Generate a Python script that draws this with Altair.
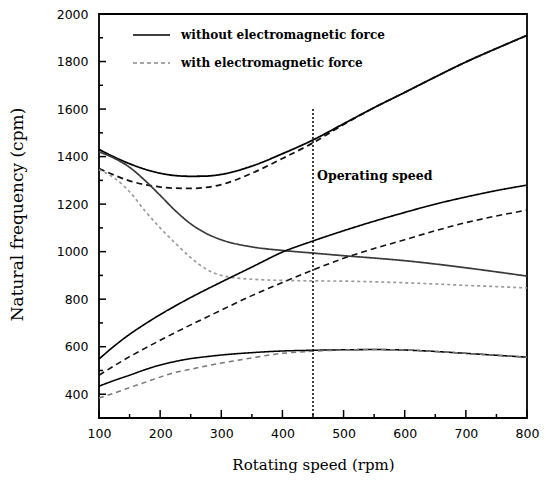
import altair as alt
import pandas as pd

# ---------------- data ----------------
rpm = [100, 125, 150, 175, 200, 225, 250, 275, 300, 350, 400, 450, 500, 550, 600, 650, 700, 750, 800]

solid_a  = [1430, 1398, 1370, 1347, 1330, 1320, 1317, 1318, 1325, 1360, 1412, 1470, 1538, 1606, 1670, 1735, 1798, 1855, 1910]
dashed_a = [1350, 1322, 1298, 1282, 1272, 1267, 1266, 1270, 1282, 1330, 1392, 1458, 1535, 1606, 1670, 1735, 1798, 1855, 1910]
solid_b  = [1420, 1393, 1355, 1300, 1237, 1172, 1117, 1077, 1050, 1020, 1005, 994, 983, 973, 962, 948, 932, 915, 897]
light_b  = [1345, 1310, 1252, 1172, 1100, 1035, 975, 927, 900, 884, 879, 877, 876, 873, 869, 864, 858, 853, 847]
solid_c  = [548, 603, 652, 695, 735, 772, 807, 840, 872, 935, 998, 1045, 1088, 1128, 1165, 1200, 1230, 1257, 1280]
dashed_c = [480, 520, 558, 593, 627, 660, 692, 723, 754, 815, 870, 923, 972, 1013, 1050, 1088, 1122, 1150, 1175]
solid_d  = [434, 458, 480, 503, 523, 538, 550, 558, 565, 575, 582, 585, 587, 588, 586, 580, 572, 564, 556]
dashed_d = [384, 405, 428, 450, 472, 492, 505, 519, 531, 553, 572, 581, 586, 588, 586, 580, 572, 564, 556]

curves = {
    "A without": solid_a, "A with": dashed_a,
    "B without": solid_b, "B with": light_b,
    "C without": solid_c, "C with": dashed_c,
    "D without": solid_d, "D with": dashed_d,
}
curve_names = list(curves.keys())
curve_colors = ["#000000", "#111111", "#3a3a3a", "#9a9a9a", "#000000", "#111111", "#000000", "#777777"]
curve_widths = [1.8, 1.5, 1.2, 1.0, 1.8, 1.5, 1.8, 1.2]
curve_dashes = [[1, 0], [6, 4], [1, 0], [3, 3], [1, 0], [6, 4], [1, 0], [5, 4]]

legend_types = ["without electromagnetic force", "with electromagnetic force"]
legend_colors = ["#000000", "#8a8a8a"]
legend_dashes = [[1, 0], [4, 3]]

op_speed = [450]
op_top = [1600]
op_bottom = [300]
op_text = ["Operating speed"]
op_text_y = [1318]

x_major = [100, 200, 300, 400, 500, 600, 700, 800]
x_minor = [150, 250, 350, 450, 550, 650, 750]
y_major = [400, 600, 800, 1000, 1200, 1400, 1600, 1800, 2000]
y_minor = [500, 700, 900, 1100, 1300, 1500, 1700, 1900]

# ---------------- tables ----------------
rows = []
for name, vals in curves.items():
    for r, v in zip(rpm, vals):
        rows.append({"rpm": r, "freq": v, "curve": name})
df = pd.DataFrame(rows)

leg_df = pd.DataFrame({"rpm": [100, 100], "freq": [300, 300], "type": legend_types})
op_df = pd.DataFrame({"rpm": op_speed, "freq": op_top, "freq2": op_bottom})
txt_df = pd.DataFrame({"rpm": op_speed, "freq": op_text_y, "label": op_text})
xmaj_df = pd.DataFrame({"rpm": x_major})
xmin_df = pd.DataFrame({"rpm": x_minor})
ymaj_df = pd.DataFrame({"freq": y_major})
ymin_df = pd.DataFrame({"freq": y_minor})

W, H = 428, 404
xs = alt.Scale(domain=[100, 800], nice=False, zero=False)
ys = alt.Scale(domain=[300, 2000], nice=False, zero=False)

x_axis = alt.Axis(values=x_major, ticks=False, grid=False, domain=False, format="d",
                  labelFlush=False, labelOverlap=False,
                  labelFont="DejaVu Sans", labelFontSize=12.5, labelColor="black",
                  labelPadding=9, title="Rotating speed (rpm)", titleFont="DejaVu Serif",
                  titleFontSize=15, titleFontWeight="normal", titleColor="black",
                  titleY=39, titleBaseline="top")
y_axis = alt.Axis(values=y_major, ticks=False, grid=False, domain=False, format="d",
                  labelFlush=False, labelOverlap=False,
                  labelFont="DejaVu Sans", labelFontSize=12.5, labelColor="black",
                  labelPadding=11, title="Natural frequency (cpm)", titleFont="DejaVu Serif",
                  titleFontSize=17, titleFontWeight="normal", titleColor="black",
                  titleX=-82, titleY=200, titleBaseline="middle", titleAngle=-90)

X = alt.X("rpm:Q", scale=xs, axis=x_axis)
Y = alt.Y("freq:Q", scale=ys, axis=y_axis)

lines = alt.Chart(df).mark_line(interpolate="monotone").encode(
    x=X, y=Y,
    detail="curve:N",
    color=alt.Color("curve:N", scale=alt.Scale(domain=curve_names, range=curve_colors), legend=None),
    strokeWidth=alt.StrokeWidth("curve:N", scale=alt.Scale(domain=curve_names, range=curve_widths), legend=None),
    strokeDash=alt.StrokeDash("curve:N", scale=alt.Scale(domain=curve_names, range=curve_dashes), legend=None),
)

leg = alt.Legend(title=None, orient="none", legendX=33, legendY=7, padding=0, offset=0,
                 symbolType="stroke", symbolSize=1369, symbolStrokeWidth=1.5, clipHeight=28,
                 rowPadding=0, labelOffset=10, labelFont="DejaVu Serif", labelFontSize=12,
                 labelFontWeight="bold", labelColor="black", labelLimit=400)

legend_layer = alt.Chart(leg_df).mark_line().encode(
    x=X, y=Y,
    color=alt.Color("type:N", scale=alt.Scale(domain=legend_types, range=legend_colors), legend=leg),
    strokeDash=alt.StrokeDash("type:N", scale=alt.Scale(domain=legend_types, range=legend_dashes), legend=leg),
).transform_filter("datum.rpm < 0")

op_line = alt.Chart(op_df).mark_rule(color="black", strokeWidth=1.5, strokeDash=[2, 2]).encode(
    x=X, y=Y, y2="freq2:Q",
)
op_label = alt.Chart(txt_df).mark_text(align="left", baseline="middle", dx=4,
                                       font="DejaVu Serif", fontSize=12.5, fontWeight="bold",
                                       color="black").encode(
    x=X, y=Y, text="label:N",
)

xmaj = alt.Chart(xmaj_df).mark_rule(color="black", strokeWidth=1.5).encode(
    x=X, y=alt.value(H), y2=alt.value(H - 8))
xmin = alt.Chart(xmin_df).mark_rule(color="black", strokeWidth=1.5).encode(
    x=X, y=alt.value(H), y2=alt.value(H - 4))
ymaj = alt.Chart(ymaj_df).mark_rule(color="black", strokeWidth=1.5).encode(
    y=Y, x=alt.value(0), x2=alt.value(7))
ymin = alt.Chart(ymin_df).mark_rule(color="black", strokeWidth=1.5).encode(
    y=Y, x=alt.value(0), x2=alt.value(4))

chart = alt.layer(lines, legend_layer, op_line, op_label, xmaj, xmin, ymaj, ymin).resolve_scale(
    color="independent", strokeDash="independent"
).properties(
    width=W, height=H,
    autosize=alt.AutoSizeParams(type="none"),
    padding={"left": 99, "top": 14, "right": 26, "bottom": 64},
    background="white",
).configure_view(stroke="black", strokeWidth=1.8)

chart.save("out.html", embed_options={"renderer": "svg", "actions": False})
